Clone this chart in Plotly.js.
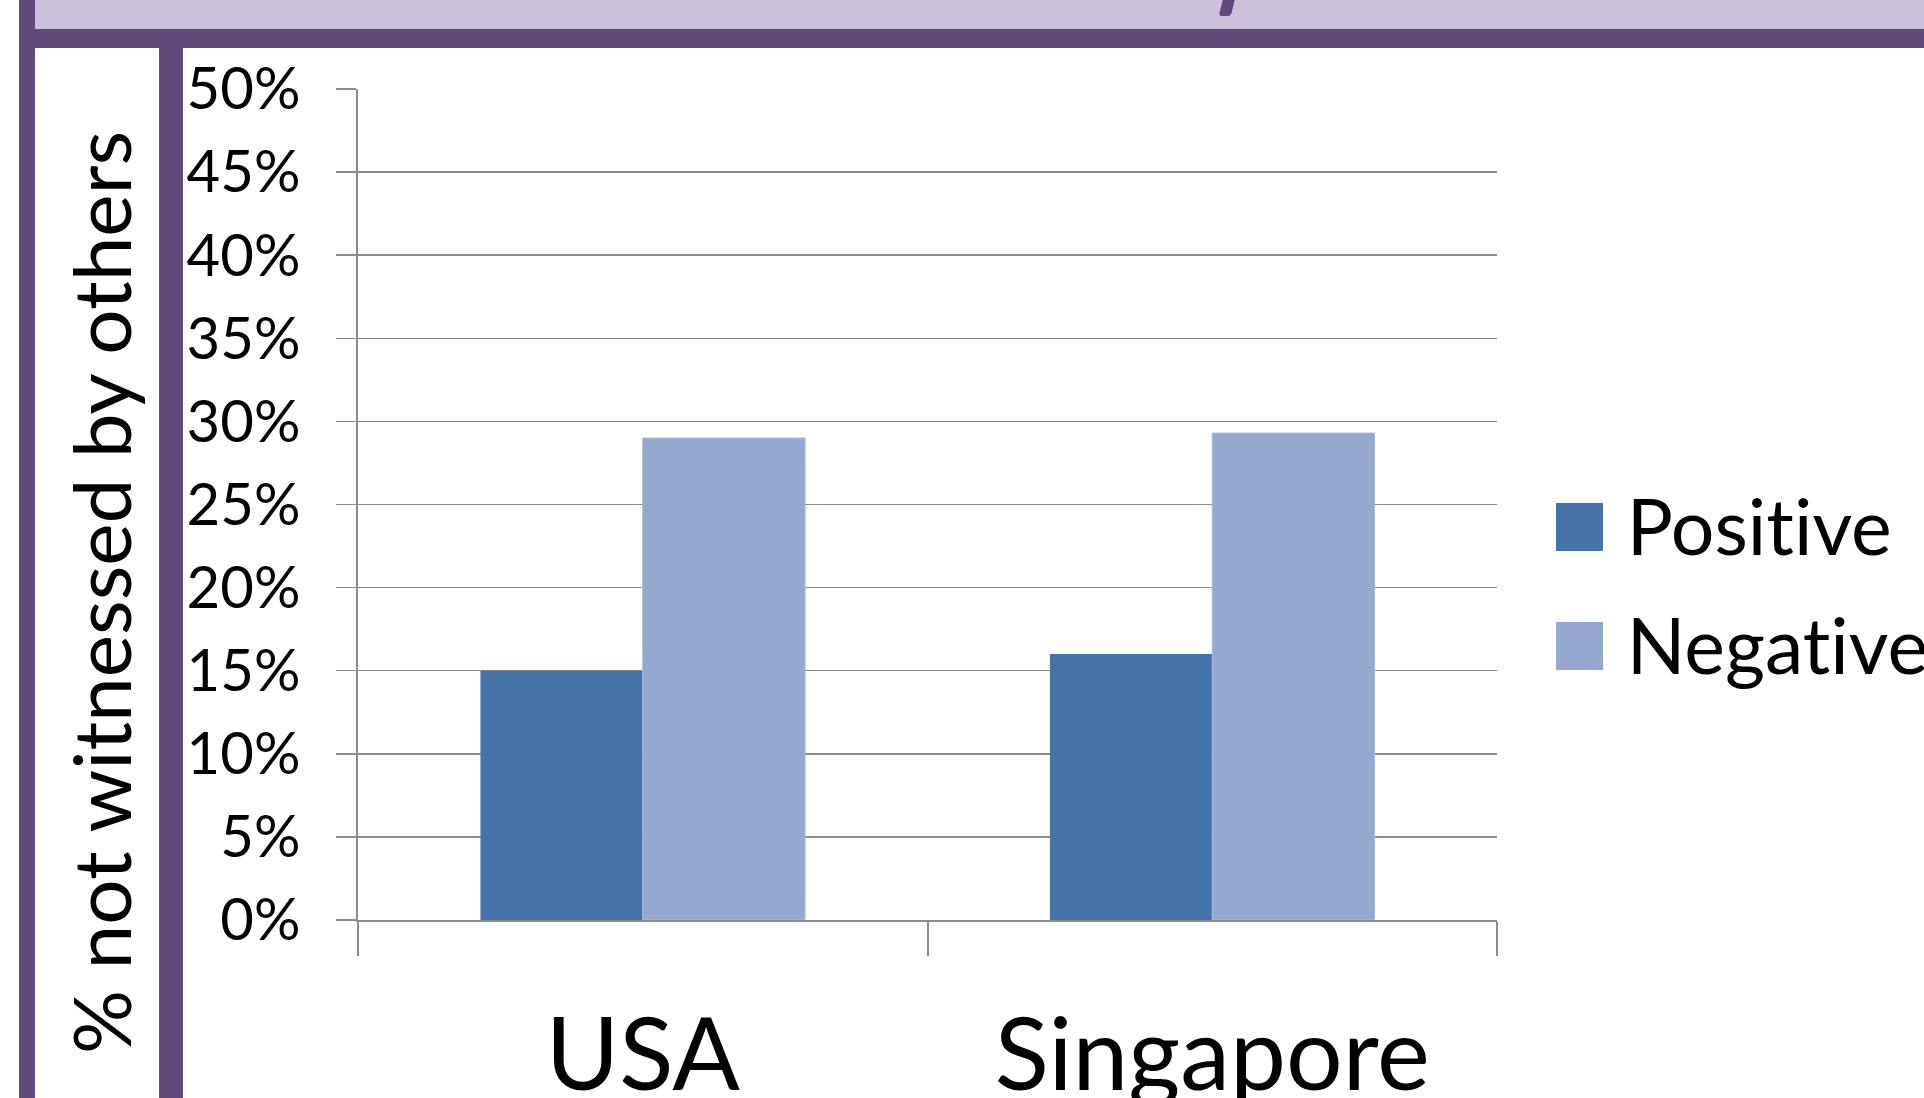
<!DOCTYPE html>
<html>
<head>
<meta charset="utf-8">
<script src="https://cdn.plot.ly/plotly-3.0.1.min.js"></script>
<style>
  html, body { margin: 0; padding: 0; background: #ffffff; overflow: hidden; }
  #wrap { position: relative; width: 1924px; height: 1098px; }
  .deco { position: absolute; }
  #chart { position: absolute; left: 0; top: 0; width: 1924px; height: 1098px; }
  #chart text { font-variant-ligatures: none; font-feature-settings: "liga" 0, "clig" 0; }
</style>
</head>
<body>
<div id="wrap">
  <div class="deco" style="left:35px; top:0; width:1889px; height:31px; background:#CBC1DA;"></div>
  <div class="deco" style="left:1221px; top:-2px; width:12px; height:18px; background:#604A7B; transform:skewX(-14deg); border-radius:0 0 3px 3px;"></div>
  <div class="deco" style="left:35px; top:29px; width:1889px; height:19px; background:#604A7B;"></div>
  <div class="deco" style="left:19px; top:0; width:16px; height:1098px; background:#604A7B;"></div>
  <div class="deco" style="left:159px; top:29px; width:24px; height:1069px; background:#604A7B;"></div>
  <div id="chart"></div>
</div>
<script>
const categories = ['USA', 'Singapore'];
const seriesNames = ['Positive', 'Negative'];
const positiveValues = [0.15, 0.16];
const negativeValues = [0.29, 0.293];
const seriesColors = ['#4572A7', '#95A9D0'];
const yTitle = '% not witnessed by others';

const W = 1924, H = 1098;
const M = { l: 358, r: 427, t: 89, b: 178 };
const pw = W - M.l - M.r, ph = H - M.t - M.b;
const px2x = px => (px - M.l) / pw;
const py2y = py => (H - M.b - py) / ph;

const FONT = 'Lato, "Open Sans", sans-serif';
const GRID = '#8c8c8c';

const traces = [
  { type: 'bar', name: seriesNames[0], x: categories, y: positiveValues,
    marker: { color: seriesColors[0], line: { width: 0 } }, showlegend: false, hoverinfo: 'none' },
  { type: 'bar', name: seriesNames[1], x: categories, y: negativeValues,
    marker: { color: seriesColors[1], line: { width: 1, color: '#a8b9db' } }, showlegend: false, hoverinfo: 'none' }
];

// manual legend (large squares as in the reference)
const shapes = [];
const annotations = [];
const legendTop = [503, 622];
seriesNames.forEach((n, i) => {
  shapes.push({ type: 'rect', xref: 'paper', yref: 'paper',
    x0: px2x(1556), x1: px2x(1603), y0: py2y(legendTop[i] + 48), y1: py2y(legendTop[i]),
    fillcolor: seriesColors[i], line: { width: 0 } });
  annotations.push({ xref: 'paper', yref: 'paper', x: px2x(1624), y: py2y(legendTop[i] + 22),
    xanchor: 'left', yanchor: 'middle', text: n, showarrow: false,
    font: { family: FONT, size: 77, color: '#000000' } });
});
annotations.push({ xref: 'paper', yref: 'paper', x: px2x(100), y: py2y(593),
  xanchor: 'center', yanchor: 'middle', textangle: -90, text: yTitle, showarrow: false,
  font: { family: FONT, size: 80, color: '#000000' } });

const layout = {
  width: W, height: H, margin: M,
  paper_bgcolor: 'rgba(0,0,0,0)', plot_bgcolor: 'rgba(0,0,0,0)',
  barmode: 'group', bargap: 0.43, bargroupgap: 0,
  showlegend: false,
  font: { family: FONT, color: '#000000' },
  xaxis: {
    type: 'category', showgrid: false, zeroline: false,
    showline: true, linecolor: GRID, linewidth: 2,
    ticks: 'outside', tickson: 'boundaries', ticklen: 34, tickcolor: GRID, tickwidth: 2,
    tickfont: { family: FONT, size: 100, color: '#000000' },
    ticklabelstandoff: 48
  },
  yaxis: {
    range: [0, 0.5], dtick: 0.05, tickformat: '.0%',
    showgrid: true, gridcolor: GRID, gridwidth: 1.5, zeroline: false,
    showline: true, linecolor: GRID, linewidth: 2,
    ticks: 'outside', ticklen: 20, tickcolor: GRID, tickwidth: 1.5,
    tickfont: { family: FONT, size: 58, color: '#000000' },
    ticklabelstandoff: 24
  },
  shapes: shapes,
  annotations: annotations
};

Plotly.newPlot('chart', traces, layout, { displayModeBar: false, staticPlot: true });
</script>
</body>
</html>
